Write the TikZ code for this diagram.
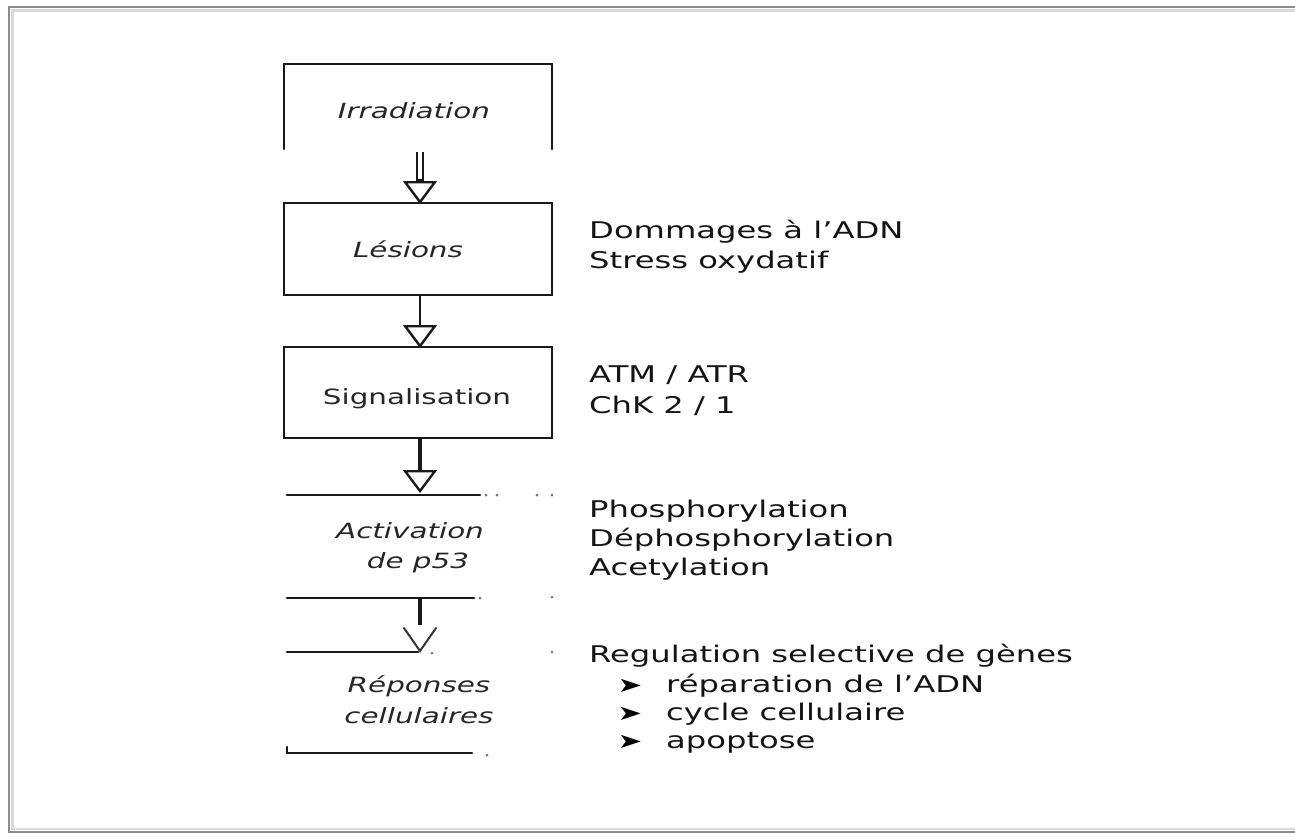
\documentclass[tikz,border=0pt]{standalone}
\usepackage{fontspec}
\setmainfont{DejaVu Sans}[FakeStretch=1.4]
\usetikzlibrary{arrows.meta,calc}
\begin{document}
\begin{tikzpicture}[x=1pt,y=-1pt,
  boxline/.style={line width=2.8pt, draw=black!90, line cap=round},
  boxtext/.style={font=\fontsize{21}{26}\selectfont\itshape, anchor=base, text=black!85, inner sep=0pt},
  boxtextup/.style={font=\fontsize{21}{26}\selectfont, anchor=base, text=black!85, inner sep=0pt},
  sidetext/.style={font=\fontsize{23}{30}\selectfont, anchor=base west, text=black!92, inner sep=0pt},
  bulletmark/.style={font=\fontsize{21}{24}\selectfont, anchor=base, text=black, inner sep=0pt},
  flowarrow/.style={draw=black!90, line cap=butt, -{Triangle[open, width=34pt, length=23pt, line width=2.4pt]}},
  vhead/.style={draw=black!80, line width=2pt, line cap=round},
  speck/.style={fill=black!55, draw=none},
  framebox/.style={draw=black!45, line width=1.5pt},
  frameshadow/.style={draw=black!15, line width=2.5pt},
]
\useasboundingbox (0,0) rectangle (1295,836);
% outer frame
\draw[frameshadow] (1295,10.5) -- (12.5,10.5) -- (12.5,829) -- (1295,829);
\draw[framebox] (1295,7) -- (9,7) -- (9,832) -- (1295,832);

% boxes and separator lines
\draw[boxline] (284,149) -- (284,64) -- (552,64) -- (552,149);
\draw[boxline] (284,203) rectangle (552,295);
\draw[boxline] (284,347) rectangle (552,438);
\draw[boxline] (287,495) -- (480,495);
\draw[boxline] (287,598) -- (474,598);
\draw[boxline] (287,652) -- (418,652);
\draw[boxline] (287,747) -- (287,753) -- (472,753);

% specks
\foreach \p in {(486,495),(497,495),(537,495),(552,495),(480,598),(552,597),(432,653),(552,652),(487,755)}
  \fill[speck] \p circle (1.5);

% flow texts
\node[boxtext] (irr) at (414,118) {Irradiation};
\node[boxtext] (les) at (408,257) {Lésions};
\node[boxtextup] (sig) at (417,404) {Signalisation};
\node[boxtext] (act1) at (410,538) {Activation};
\node[boxtext] (act2) at (418,568) {de p53};
\node[boxtext] (rep1) at (419,692) {Réponses};
\node[boxtext] (rep2) at (419,723) {cellulaires};

% connector end points
\coordinate (b1s) at (420,152);
\coordinate (b2n) at (420,204);
\coordinate (b2s) at (420,296);
\coordinate (b3n) at (420,348);
\coordinate (b3s) at (420,439);
\coordinate (b4n) at (420,493);
\coordinate (b4s) at (420,599);
\coordinate (b5n) at (420,651);

% arrows
\draw[flowarrow, line width=8.5pt] (b1s) -- (b2n);
\draw[white, line width=3.3pt, line cap=butt] (b1s) -- ($(b2n)+(0,-25)$);
\draw[flowarrow, line width=2.8pt] (b2s) -- (b3n);
\draw[flowarrow, line width=4.5pt] (b3s) -- (b4n);
\draw[draw=black!90, line width=4.5pt, line cap=butt] (b4s) -- ($(b5n)+(0,-26)$);
\draw[vhead] ($(b5n)+(-16,-23)$) -- (b5n) -- ($(b5n)+(16,-23)$);

% side texts
\node[sidetext] (dom) at (589,238) {Dommages à l’ADN};
\node[sidetext] (str) at (589,268) {Stress oxydatif};
\node[sidetext] (atm) at (589,382) {ATM / ATR};
\node[sidetext] (chk) at (589,413) {ChK 2 / 1};
\node[sidetext] (pho) at (589,517) {Phosphorylation};
\node[sidetext] (dep) at (589,546) {Déphosphorylation};
\node[sidetext] (ace) at (589,575) {Acetylation};
\node[sidetext] (reg) at (589,662) {Regulation selective de gènes};
\node[bulletmark] (m1) at (630,692) {➤};
\node[bulletmark] (m2) at (630,720) {➤};
\node[bulletmark] (m3) at (630,748) {➤};
\node[sidetext] (rad) at (666,692) {réparation de l’ADN};
\node[sidetext] (cyc) at (666,720) {cycle cellulaire};
\node[sidetext] (apo) at (666,748) {apoptose};
\end{tikzpicture}
\end{document}
